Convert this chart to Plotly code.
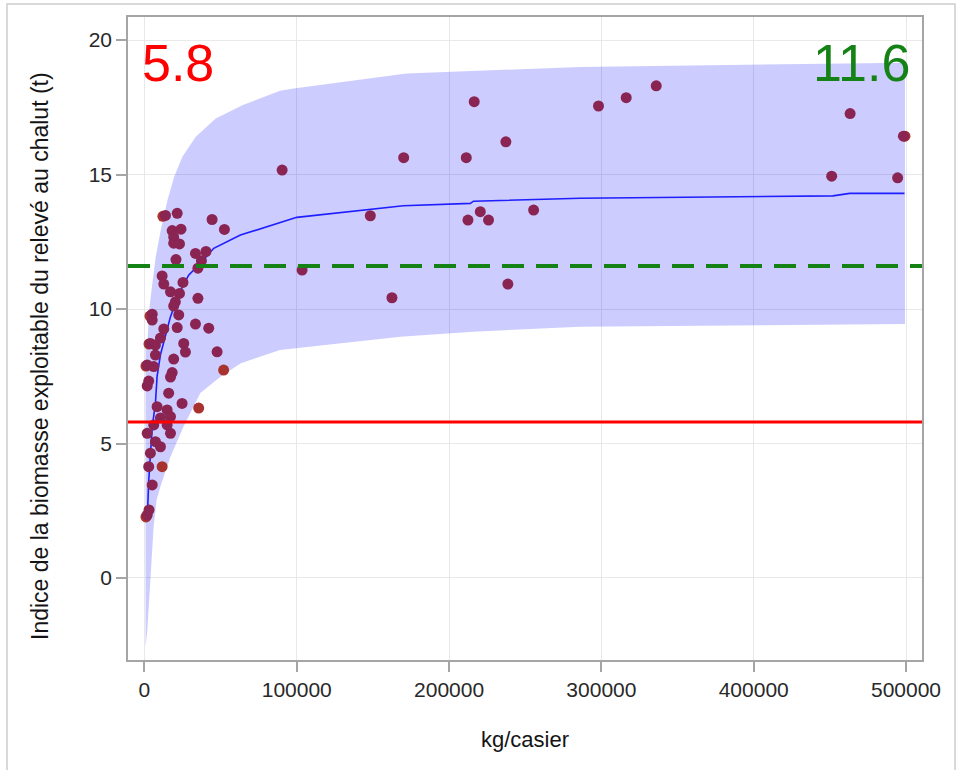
import plotly.graph_objects as go

# Observed survey points: catch rate (kg/casier) vs trawl-survey exploitable biomass index (t)
kg_casier = [
    13.8, 21.5, 18.2, 24.0, 19.2, 19.2, 23.0, 44.4, 52.5, 33.5, 40.4, 37.4, 20.7, 35.1,
    11.6, 12.7, 25.3, 17.1, 23.0, 35.1, 20.3, 19.2, 5.1, 5.1, 22.5, 33.5, 42.2, 21.5,
    12.7, 10.5, 3.9, 7.2, 25.8, 26.9, 7.2, 47.7, 19.2, 1.8, 6.1, 18.2, 2.8, 17.1, 1.8,
    15.9, 8.3, 24.7, 14.9, 10.5, 17.1, 6.1, 14.9, 17.1, 1.8, 7.2, 10.5, 3.9, 2.8, 5.1,
    1.8, 3.0,
    90.4, 103.5, 148.3, 162.5, 170.2, 211.3, 216.5, 212.4, 220.5, 225.9, 237.3, 238.6,
    255.5, 298.1, 316.3, 336.0, 463.3, 498.3, 451.2, 494.5,
]
indice = [
    13.48, 13.56, 12.92, 12.97, 12.68, 12.45, 12.42, 13.33, 12.96, 12.07, 12.14, 11.80,
    11.84, 11.52, 11.23, 10.93, 10.99, 10.64, 10.58, 10.40, 10.27, 10.11, 9.81, 9.59,
    9.78, 9.44, 9.29, 9.31, 9.26, 8.92, 8.72, 8.66, 8.72, 8.40, 8.29, 8.41, 8.14, 7.92,
    7.86, 7.64, 7.32, 7.47, 7.14, 6.87, 6.37, 6.49, 6.25, 5.95, 6.00, 5.69, 5.69, 5.38,
    5.38, 5.07, 4.88, 4.64, 4.14, 3.46, 2.34, 2.53,
    15.17, 11.45, 13.47, 10.42, 15.63, 15.63, 17.71, 13.31, 13.62, 13.31, 16.22, 10.93,
    13.68, 17.55, 17.86, 18.30, 17.27, 16.43, 14.94, 14.88,
]

# Second group of points (drawn underneath)
kg_casier_b = [12.1, 3.6, 1.0, 52.0, 35.6, 11.6, 1.0, 3.0, 499.3]
indice_b = [13.45, 9.74, 7.88, 7.73, 6.32, 4.14, 2.27, 8.70, 16.43]

# Fitted curve
fit_x = [1.5, 2.2, 2.8, 3.2, 5.1, 7.2, 8.3, 10.5, 14.9, 17.0, 22.0, 29.0, 36.7, 45.5,
         63.0, 89.0, 100.0, 170.0, 214.0, 216.0, 286.0, 452.0, 463.0, 499.0]
fit_y = [2.3, 2.7, 3.6, 4.0, 5.6, 6.5, 7.5, 8.3, 9.3, 9.7, 10.5, 11.26, 11.7, 12.26,
         12.75, 13.22, 13.41, 13.84, 13.93, 14.01, 14.12, 14.21, 14.30, 14.30]

# Prediction band
upper_x = [0.7, 2.0, 3.1, 5.2, 7.4, 10.7, 15.1, 19.5, 24.9, 33.7, 46.8, 64.3, 89.0,
           98.0, 172.0, 286.0, 499.3]
upper_y = [8.5, 8.85, 9.96, 10.96, 11.94, 12.94, 14.05, 14.92, 15.66, 16.41, 17.09,
           17.58, 18.12, 18.2, 18.76, 19.0, 19.16]
lower_x = [0.7, 1.8, 3.9, 6.0, 8.0, 10.5, 17.0, 25.6, 36.7, 49.9, 63.0, 89.0, 168.0,
           216.0, 286.0, 499.3]
lower_y = [-2.57, -2.0, -0.07, 1.9, 2.9, 3.4, 4.5, 5.62, 6.88, 7.48, 7.98, 8.48, 8.97,
           9.16, 9.34, 9.44]

# Reference levels
LIM_LOW = 5.8
LIM_HIGH = 11.6

x_ticks = [0, 100000, 200000, 300000, 400000, 500000]
y_ticks = [0, 5, 10, 15, 20]

K = 1000.0
FONT = "Liberation Sans, Arial, sans-serif"

fig = go.Figure()

band_x = [v * K for v in upper_x] + [v * K for v in lower_x[::-1]]
band_y = upper_y + lower_y[::-1]
fig.add_trace(go.Scatter(
    x=band_x, y=band_y, fill="toself", mode="none",
    fillcolor="rgba(0,0,255,0.2)", hoverinfo="skip", showlegend=False,
))

fig.add_trace(go.Scatter(
    x=[v * K for v in fit_x], y=fit_y, mode="lines",
    line=dict(color="rgb(30,30,255)", width=1.6), showlegend=False,
))

fig.add_trace(go.Scatter(
    x=[v * K for v in kg_casier_b], y=indice_b, mode="markers",
    marker=dict(size=11, color="#A8322D", line=dict(width=0)), showlegend=False,
))

fig.add_trace(go.Scatter(
    x=[v * K for v in kg_casier], y=indice, mode="markers",
    marker=dict(size=11, color="#8A2452", line=dict(width=0)), showlegend=False,
))

# Horizontal reference lines
fig.add_shape(type="line", xref="paper", x0=0, x1=1, yref="y", y0=LIM_LOW, y1=LIM_LOW,
              line=dict(color="rgb(255,0,0)", width=3))
fig.add_shape(type="line", xref="paper", x0=0, x1=1, yref="y", y0=LIM_HIGH, y1=LIM_HIGH,
              line=dict(color="rgb(20,130,20)", width=4, dash="22px,12px"))

# Outer frame around the graph
fig.add_shape(type="rect", xref="paper", yref="paper",
              x0=-0.1524, x1=1.0416, y0=-0.19, y1=1.0202,
              line=dict(color="rgb(205,205,205)", width=1.5), layer="below")

fig.add_annotation(text=f"{LIM_LOW}", xref="paper", yref="paper", x=0.0151, y=0.929,
                   xanchor="left", yanchor="middle", showarrow=False,
                   font=dict(family=FONT, size=52, color="rgb(255,0,0)"))
fig.add_annotation(text=f"{LIM_HIGH}", xref="paper", yref="paper", x=0.988, y=0.929,
                   xanchor="right", yanchor="middle", showarrow=False,
                   font=dict(family=FONT, size=52, color="rgb(20,130,20)"))

# Axis titles
fig.add_annotation(text="kg/casier", xref="paper", yref="paper", x=0.5, y=-0.1244,
                   xanchor="center", yanchor="middle", showarrow=False,
                   font=dict(family=FONT, size=22, color="rgb(20,20,20)"))
fig.add_annotation(text="Indice de la biomasse exploitable du relevé au chalut (t)",
                   xref="paper", yref="paper", x=-0.1108, y=0.4728, textangle=-90,
                   xanchor="center", yanchor="middle", showarrow=False,
                   font=dict(family=FONT, size=23, color="rgb(20,20,20)"))

axis_common = dict(
    showline=True, mirror=True, linecolor="rgb(165,165,165)", linewidth=1.5,
    ticks="outside", ticklen=10, tickcolor="rgb(165,165,165)", tickwidth=1.5,
    showgrid=True, gridcolor="rgb(232,232,232)", gridwidth=1, zeroline=False,
    tickfont=dict(family=FONT, size=21, color="rgb(40,40,40)"),
)

fig.update_layout(
    width=960, height=770,
    margin=dict(l=128, r=38, t=17, b=110),
    paper_bgcolor="white", plot_bgcolor="white",
    font=dict(family=FONT),
    xaxis=dict(range=[-10800, 510500], tickvals=x_ticks, tickformat="d", **axis_common),
    yaxis=dict(range=[-3.05, 20.86], tickvals=y_ticks, **axis_common),
)

fig.write_html("out.html")
